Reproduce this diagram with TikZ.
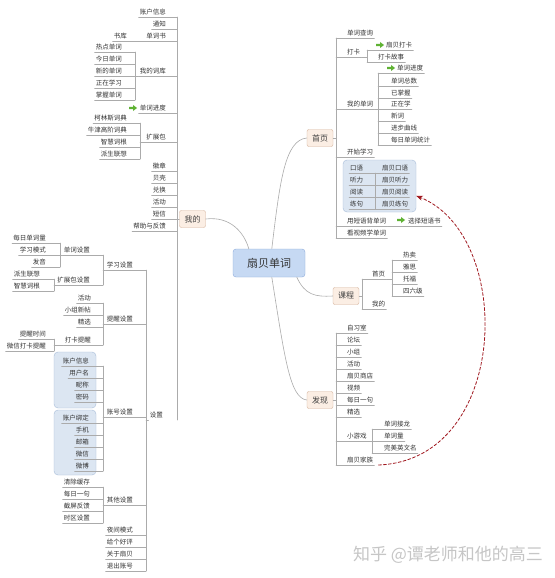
\documentclass[tikz,border=0pt]{standalone}
\usepackage{fontspec}
\newfontfamily\cjk{Noto Sans CJK SC}
\usetikzlibrary{arrows.meta}
\definecolor{lineg}{HTML}{ABABAB}
\definecolor{topicf}{HTML}{FBEEE4}
\definecolor{topicd}{HTML}{D6B49C}
\definecolor{rootf}{HTML}{C6D9F3}
\definecolor{rootd}{HTML}{8EAADB}
\definecolor{grpf}{HTML}{DCE6F2}
\definecolor{grpd}{HTML}{A7BDD9}
\definecolor{arrowg}{HTML}{5FB233}
\definecolor{darkred}{HTML}{A0171E}
% kleiner gruener Pfeil
\newcommand\garr[1]{\fill[arrowg] (#1) ++(-4,1.2) -- ++(4,0) -- ++(0,1.8) -- ++(4,-3) -- ++(-4,-3) -- ++(0,1.8) -- ++(-4,0) -- cycle;}
\begin{document}
\begin{tikzpicture}[x=1pt, y=-1pt, >=Stealth, line join=round, line cap=round,
  lbl/.style={font=\cjk\fontsize{6.5}{7}\selectfont, text=black!80, inner xsep=1pt, inner ysep=1.5pt},
  ln/.style={lineg, line width=0.5pt},
  topic/.style={draw=topicd, fill=topicf, rounded corners=2pt, font=\cjk\fontsize{8}{9}\selectfont, text=black!75, minimum height=17pt, inner xsep=5pt},
  grp/.style={draw=grpd, fill=grpf, rounded corners=4pt, inner sep=0pt}]
\fill[white] (0,0) rectangle (554,578);
\useasboundingbox (0,0) rectangle (554,578);
% Mitte
\node[draw=rootd, fill=rootf, rounded corners=3pt, minimum width=72pt, minimum height=28pt, font=\cjk\fontsize{11}{12}\selectfont, text=black!80] (root) at (269,263) {扇贝单词};
% ---------- 我的 ----------
\node[topic] (wd) at (192.5,219) {我的};
\coordinate (wl) at (177,0);
\foreach \t/\u [count=\i] in {账户信息/17,通知/29,单词书/41,我的词库/76,单词进度/113,扩展包/142,徽章/171,贝壳/183,兑换/195,活动/207,短信/219,帮助与反馈/231}
{
  \node[lbl, anchor=south east] (m\i) at (167,\u) {\t};
  \draw[ln] (m\i.south west) -- (m\i.south west -| wl);
}
\node[lbl, anchor=south east] (sz) at (164,420) {设置};
\draw[ln] (m1.south -| wl) -- (sz.south -| wl);
\draw[ln] (wd.west) -- (wd.west -| wl);
\garr{133,108}
\node[lbl, anchor=south east] (sk) at (128,41) {书库};
\draw[ln] (sk.south west) -- (m3.south west);
\coordinate (kl) at (135,0);
\foreach \t/\u [count=\i] in {热点单词/52,今日单词/64,新的单词/76,正在学习/88,掌握单词/100}
{
  \node[lbl, anchor=south east] (c\i) at (123,\u) {\t};
  \draw[ln] (c\i.south west) -- (c\i.south west -| kl);
}
\draw[ln] (c1.south -| kl) -- (c5.south -| kl);
\draw[ln] (m4.south west) -- (m4.south west -| kl);
\coordinate (el) at (140,0);
\foreach \t/\u [count=\i] in {柯林斯词典/123,牛津高阶词典/135,智慧词根/147,派生联想/159}
{
  \node[lbl, anchor=south east] (e\i) at (128,\u) {\t};
  \draw[ln] (e\i.south west) -- (e\i.south west -| el);
}
\draw[ln] (e1.south -| el) -- (e4.south -| el);
\draw[ln] (m6.south west) -- (m6.south west -| el);
% 设置
\coordinate (sl) at (146,0);
\coordinate (tl) at (103,0);
\foreach \t/\u [count=\i] in {学习设置/270,提醒设置/324,账号设置/417,其他设置/505,夜间模式/535,给个好评/547,关于扇贝/559,退出账号/571}
{
  \node[lbl, anchor=south east] (s\i) at (134,\u) {\t};
  \draw[ln] (s\i.south west) -- (s\i.south west -| sl);
}
\draw[ln] (s1.south -| sl) -- (s8.south -| sl);
\draw[ln] (sz.south west) -- (sz.south west -| sl);
\foreach \i in {1,...,4} \draw[ln] (s\i.south west) -- (s\i.south west -| tl);
\node[lbl, anchor=south east] (x1) at (91,255) {单词设置};
\node[lbl, anchor=south east] (x2) at (91,285) {扩展包设置};
\foreach \i in {1,2} \draw[ln] (x\i.south west) -- (x\i.south west -| tl);
\draw[ln] (x1.south -| tl) -- (x2.south -| tl);
\coordinate (dl) at (60,0);
\coordinate (pl) at (54,0);
\foreach \t/\u [count=\i] in {每日单词量/243,学习模式/255,发音/267}
{
  \node[lbl, anchor=south east] (y\i) at (47,\u) {\t};
  \draw[ln] (y\i.south west) -- (y\i.south west -| dl);
}
\draw[ln] (y1.south -| dl) -- (y3.south -| dl);
\draw[ln] (x1.south west) -- (x1.south west -| dl);
\foreach \t/\u [count=\i] in {派生联想/279,智慧词根/291}
{
  \node[lbl, anchor=south east] (z\i) at (41,\u) {\t};
  \draw[ln] (z\i.south west) -- (z\i.south west -| pl);
}
\draw[ln] (z1.south -| pl) -- (z2.south -| pl);
\draw[ln] (x2.south west) -- (x2.south west -| pl);
\foreach \t/\u [count=\i] in {活动/303,小组新帖/315,精选/327,打卡提醒/345}
{
  \node[lbl, anchor=south east] (r\i) at (92,\u) {\t};
  \draw[ln] (r\i.south west) -- (r\i.south west -| tl);
}
\draw[ln] (r1.south -| tl) -- (r4.south -| tl);
\foreach \t/\u [count=\i] in {提醒时间/339,微信打卡提醒/351}
{
  \node[lbl, anchor=south east] (q\i) at (47,\u) {\t};
  \draw[ln] (q\i.south west) -- (q\i.south west -| pl);
}
\draw[ln] (q1.south -| pl) -- (q2.south -| pl);
\draw[ln] (r4.south west) -- (r4.south west -| pl);
\node[grp, minimum width=42pt, minimum height=56pt] (g1) at (75,380) {};
\node[grp, minimum width=42pt, minimum height=65pt] (g2) at (75,442.5) {};
\foreach \t/\u [count=\i] in {账户信息/366,用户名/378,昵称/390,密码/402,账户绑定/423,手机/435,邮箱/447,微信/459,微博/471}
{
  \node[lbl, anchor=south east] (a\i) at (90,\u) {\t};
  \draw[ln] (a\i.south west) -- (a\i.south west -| tl);
}
\draw[ln] (a1.south -| tl) -- (a9.south -| tl);
\foreach \t/\u [count=\i] in {清除缓存/487,每日一句/499,截屏反馈/511,时区设置/523}
{
  \node[lbl, anchor=south east] (o\i) at (91,\u) {\t};
  \draw[ln] (o\i.south west) -- (o\i.south west -| tl);
}
\draw[ln] (o1.south -| tl) -- (o4.south -| tl);
% ---------- 首页 ----------
\node[topic] (sy) at (320,138) {首页};
\coordinate (hl) at (336,0);
\foreach \t/\u [count=\i] in {单词查询/38,打卡/57,我的单词/109,开始学习/157,用短语背单词/226,看视频学单词/238}
{
  \node[lbl, anchor=south west] (h\i) at (346,\u) {\t};
  \draw[ln] (h\i.south -| hl) -- (h\i.south east);
}
\draw[ln] (h1.south -| hl) -- (h6.south -| hl);
\draw[ln] (sy.east) -- (sy.east -| hl);
\coordinate (dk) at (367,0);
\node[lbl, anchor=south west] (d1) at (385,50) {扇贝打卡};
\node[lbl, anchor=south west] (d2) at (377,62) {打卡故事};
\foreach \i in {1,2} \draw[ln] (d\i.south -| dk) -- (d\i.south east);
\draw[ln] (d1.south -| dk) -- (d2.south -| dk);
\draw[ln] (h2.south east) -- (h2.south east -| dk);
\garr{380,45}
\coordinate (ml) at (378,0);
\foreach \t/\x/\u [count=\i] in {单词进度/396/73,单词总数/390/86,已掌握/390/98,正在学/390/109,新词/390/121,进步曲线/390/133,每日单词统计/390/145}
{
  \node[lbl, anchor=south west] (n\i) at (\x,\u) {\t};
  \draw[ln] (n\i.south -| ml) -- (n\i.south east);
}
\draw[ln] (n1.south -| ml) -- (n7.south -| ml);
\draw[ln] (h3.south east) -- (h3.south east -| ml);
\garr{391,68}
\node[grp, minimum width=73pt, minimum height=52pt] (ksbox) at (379.5,186) {};
\coordinate (vl) at (375,0);
\foreach \l/\r/\u [count=\i] in {口语/扇贝口语/173,听力/扇贝听力/185,阅读/扇贝阅读/197,练句/扇贝练句/209}
{
  \node[lbl, anchor=south west] (k\i) at (349,\u) {\l};
  \node[lbl, anchor=south west] (v\i) at (381,\u) {\r};
  \draw[ln] (k\i.south west) -- (v\i.south east);
}
\draw[ln] (k1.south -| vl) -- (k4.south -| vl);
\garr{401,220}
\node[lbl, anchor=south west] (ph) at (407,226) {选择短语书};
\draw[ln] (h5.south east) -- (ph.south east);
% ---------- 课程 ----------
\node[topic] (kc) at (346,296) {课程};
\coordinate (cl) at (362,0);
\foreach \t/\u [count=\i] in {首页/279,我的/309}
{
  \node[lbl, anchor=south west] (p\i) at (371,\u) {\t};
  \draw[ln] (p\i.south -| cl) -- (p\i.south east);
}
\draw[ln] (p1.south -| cl) -- (p2.south -| cl);
\draw[ln] (kc.east) -- (kc.east -| cl);
\coordinate (bl) at (392,0);
\draw[ln] (p1.south east) -- (p1.south east -| bl);
\foreach \t/\u [count=\i] in {热卖/260,雅思/272,托福/284,四六级/296}
{
  \node[lbl, anchor=south west] (b\i) at (402,\u) {\t};
  \draw[ln] (b\i.south -| bl) -- (b\i.south east);
}
\draw[ln] (b1.south -| bl) -- (b4.south -| bl);
% ---------- 发现 ----------
\node[topic] (fx) at (320,400) {发现};
\foreach \t/\u [count=\i] in {自习室/333,论坛/345,小组/357,活动/369,扇贝商店/381,视频/393,每日一句/405,精选/417,小游戏/441,扇贝家族/465}
{
  \node[lbl, anchor=south west] (f\i) at (346,\u) {\t};
  \draw[ln] (f\i.south -| hl) -- (f\i.south east);
}
\draw[ln] (f1.south -| hl) -- (f10.south -| hl);
\draw[ln] (fx.east) -- (fx.east -| hl);
\coordinate (gl) at (372,0);
\draw[ln] (f9.south east) -- (f9.south east -| gl);
\foreach \t/\u [count=\i] in {单词接龙/429,单词量/441,完美英文名/453}
{
  \node[lbl, anchor=south west] (u\i) at (383,\u) {\t};
  \draw[ln] (u\i.south -| gl) -- (u\i.south east);
}
\draw[ln] (u1.south -| gl) -- (u3.south -| gl);
% Aeste
\draw[ln, line width=0.6pt] (wd.east) .. controls (230,216) and (244,232) .. ([xshift=16pt]root.north west);
\draw[ln, line width=0.6pt] ([xshift=39pt]root.north west) .. controls (280,180) and (285,140) .. (sy.west);
\draw[ln, line width=0.6pt] ([xshift=64pt]root.south west) .. controls (305,295) and (315,297) .. (kc.west);
\draw[ln, line width=0.6pt] ([xshift=39pt]root.south west) .. controls (285,360) and (290,398) .. (fx.west);
\draw[darkred, densely dashed, line width=0.8pt, ->] ([xshift=4pt]f10.south east) .. controls (510,460) and (515,235) .. (ksbox.-15);
\node[font=\cjk\fontsize{17}{17}\selectfont, text=gray!45] (wm) at (448,555) {知乎 @谭老师和他的高三};
\end{tikzpicture}
\end{document}
